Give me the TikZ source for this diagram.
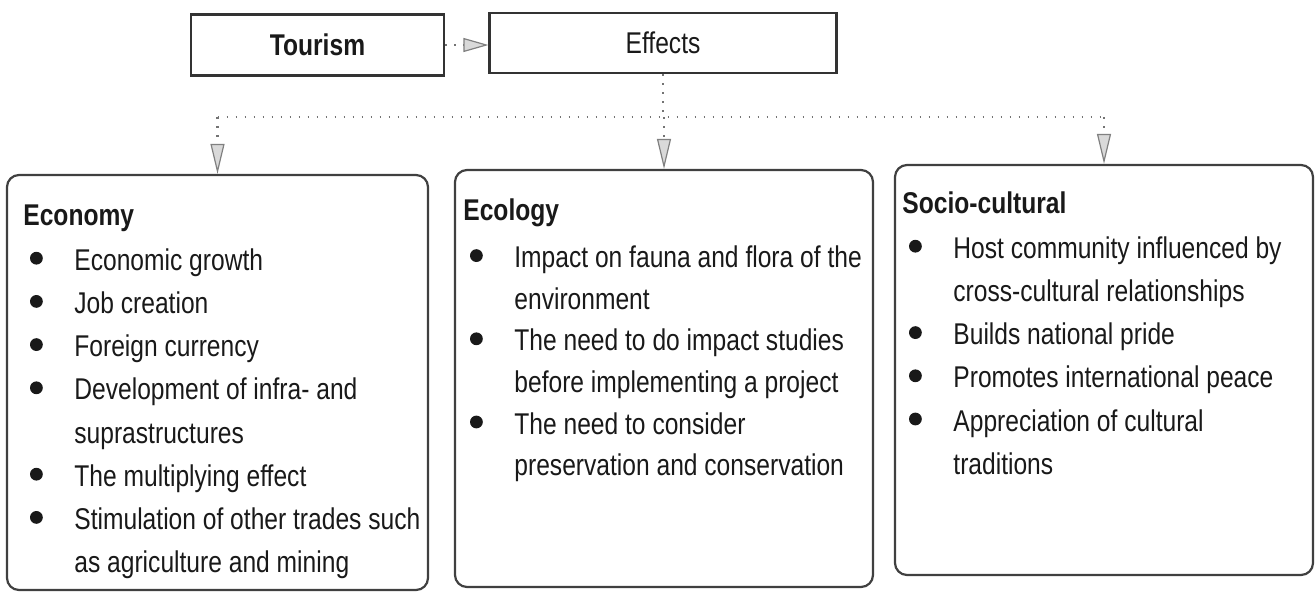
\documentclass[tikz,border=0pt]{standalone}
\usepackage{fontspec}
\setmainfont{Liberation Sans}[FakeStretch=0.82]
\usetikzlibrary{arrows.meta,fit,positioning}
\newcommand{\dotcell}{\makebox[25.5pt][l]{\makebox[13pt]{\raisebox{2.8pt}{\tikz\fill[black!90] (0pt,0pt) circle (3.2pt);}}}}

\tikzset{
  topbox/.style={draw=black!80, line width=1.1pt, inner sep=0pt, text=black!90,
    font=\fontsize{15pt}{18pt}\selectfont},
  panel/.style={draw=black!75, line width=1.1pt, rounded corners=6pt, inner sep=0pt},
  listtext/.style={anchor=base west, inner sep=0pt, text=black!90,
    font=\fontsize{15pt}{21.6pt}\selectfont},
  link/.style={draw=black!55, line width=1.1pt, dash pattern=on 0.9pt off 3.6pt},
  downtip/.style={-{Triangle[length=15pt,width=7pt,fill=black!15,color=black!50,line width=0.6pt]}},
  sidetip/.style={-{Triangle[length=12.5pt,width=7pt,fill=black!15,color=black!50,line width=0.6pt]}}
}

\begin{document}
\begin{tikzpicture}[x=0.5pt,y=-0.5pt]
\useasboundingbox (0,0) rectangle (1315,595);

\node[topbox, minimum width=126.5pt, minimum height=30.5pt] (tourism) at (317.5,45) {\textbf{Tourism}};
\node[topbox, minimum width=173.5pt, minimum height=30pt] (effects) at (663,43) {Effects};

\node[panel, fit={(7,175) (428,590)}] (economy) {};
\node[panel, fit={(455,170) (873,587)}] (ecology) {};
\node[panel, fit={(895,165) (1313,575)}] (socio) {};

\node[listtext] (economytext) at (23,225) {\begin{tabular}[t]{@{}l@{}l@{}}
\multicolumn{2}{@{}l@{}}{\textbf{Economy}}\\[1pt]
\dotcell & Economic growth\\
\dotcell & Job creation\\
\dotcell & Foreign currency\\
\dotcell & Development of infra- and\\
 & suprastructures\\
\dotcell & The multiplying effect\\
\dotcell & Stimulation of other trades such\\
 & as agriculture and mining
\end{tabular}};

\node[listtext, font=\fontsize{15pt}{20.8pt}\selectfont] (ecologytext) at (463,220) {\begin{tabular}[t]{@{}l@{}l@{}}
\multicolumn{2}{@{}l@{}}{\textbf{Ecology}}\\[3pt]
\dotcell & Impact on fauna and flora of the\\
 & environment\\
\dotcell & The need to do impact studies\\
 & before implementing a project\\
\dotcell & The need to consider\\
 & preservation and conservation
\end{tabular}};

\node[listtext] (sociotext) at (902,213) {\begin{tabular}[t]{@{}l@{}l@{}}
\multicolumn{2}{@{}l@{}}{\textbf{Socio-cultural}}\\[1pt]
\dotcell & Host community influenced by\\
 & cross-cultural relationships\\
\dotcell & Builds national pride\\
\dotcell & Promotes international peace\\
\dotcell & Appreciation of cultural\\
 & traditions
\end{tabular}};

\coordinate (split) at (663,117);
\draw[link, sidetip] (tourism.east) -- (tourism.east -| effects.west);
\draw[link] (effects.south) -- (split);
\draw[link] (economy.north |- split) -- (socio.north |- split);
\foreach \p in {economy, ecology, socio}
  \draw[link, downtip] (\p.north |- split) -- (\p.north);
\end{tikzpicture}
\end{document}
